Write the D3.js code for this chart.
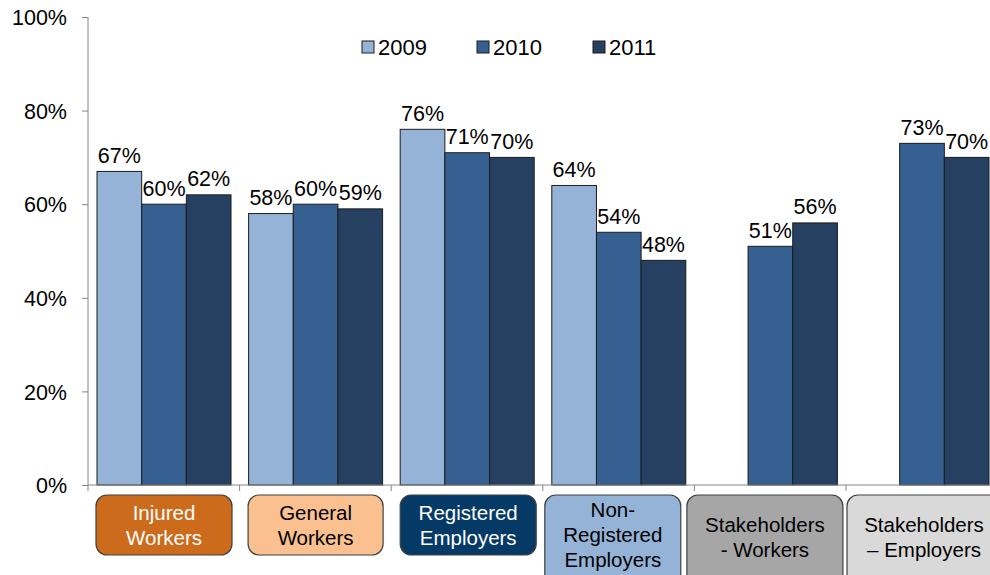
<!DOCTYPE html>
<html>
<head>
<meta charset="utf-8">
<script src="https://cdn.jsdelivr.net/npm/d3@7"></script>
<style>
  html, body { margin: 0; padding: 0; background: #fff; }
  svg { display: block; font-family: "Liberation Sans", Arial, sans-serif; }
</style>
</head>
<body>
<svg id="chart" width="990" height="575"></svg>
<script>
// ---- Data ----
const categories = ["Injured Workers", "General Workers", "Registered Employers", "Non-Registered Employers", "Stakeholders - Workers", "Stakeholders – Employers"];
const categoryLines = [["Injured", "Workers"], ["General", "Workers"], ["Registered", "Employers"], ["Non-", "Registered", "Employers"], ["Stakeholders", "- Workers"], ["Stakeholders", "– Employers"]];
const seriesNames = ["2009", "2010", "2011"];
const values2009 = [67, 58, 76, 64, null, null];
const values2010 = [60, 60, 71, 54, 51, 73];
const values2011 = [62, 59, 70, 48, 56, 70];
const yTicks = [0, 20, 40, 60, 80, 100];

// ---- Styles / layout ----
const seriesColors = ["#95B3D7", "#366092", "#254061"];
const boxFill = ["#CC6B1C", "#FAC090", "#053A66", "#95B3D7", "#A6A6A6", "#D9D9D9"];
const boxText = ["#ffffff", "#000000", "#ffffff", "#000000", "#000000", "#000000"];
// box placement relative to band start: [dx, width, height]
const boxLayout = [[8, 136, 60], [8.5, 135, 60], [9, 136, 60], [2, 136, 92], [-7.5, 156, 92], [1, 154, 92]];

const svg = d3.select("#chart");
const left = 88, bandStep = 151.6;
const x = d3.scaleBand().domain(categories).range([left, left + bandStep * categories.length]).padding(0);
const xs = d3.scaleBand().domain(seriesNames).range([9, x.bandwidth() - 8.6]).padding(0);
const y = d3.scaleLinear().domain([0, 100]).range([485, 17]);

const data = categories.map((c, i) => ({
  cat: c,
  vals: [values2009[i], values2010[i], values2011[i]]
}));

// ---- Axes ----
const axisColor = "#868686";
const yAxis = svg.append("g").attr("transform", `translate(${left},0)`)
  .call(d3.axisLeft(y).tickValues(yTicks).tickSize(6).tickFormat(d => d + "%"));
yAxis.select(".domain").attr("stroke", axisColor).attr("d", `M0,${y(100)}V${y(0)}`);
yAxis.selectAll(".tick line").attr("stroke", axisColor);
yAxis.selectAll(".tick text").attr("x", -21).attr("dy", "0.36em")
  .attr("font-size", 21.5).attr("fill", "#000").attr("font-family", "Liberation Sans, Arial, sans-serif");

// ---- Bars ----
const groups = svg.append("g").selectAll("g").data(data).join("g")
  .attr("transform", d => `translate(${x(d.cat)},0)`);

groups.selectAll("rect").data(d => d.vals.map((v, j) => ({ v, s: seriesNames[j], j })).filter(e => e.v != null))
  .join("rect")
  .attr("x", e => xs(e.s))
  .attr("y", e => y(e.v))
  .attr("width", xs.bandwidth())
  .attr("height", e => y(0) - y(e.v))
  .attr("fill", e => seriesColors[e.j])
  .attr("stroke", "#1b1b1b")
  .attr("stroke-width", 1);

groups.selectAll("text.val").data(d => d.vals.map((v, j) => ({ v, s: seriesNames[j] })).filter(e => e.v != null))
  .join("text").attr("class", "val")
  .attr("x", e => xs(e.s) + xs.bandwidth() / 2)
  .attr("y", e => y(e.v) - 8.5)
  .attr("text-anchor", "middle")
  .attr("font-size", 21.5)
  .attr("fill", "#000")
  .text(e => e.v + "%");

// ---- X axis line + ticks ----
const xAxisG = svg.append("g");
xAxisG.append("line").attr("x1", left).attr("x2", 990).attr("y1", y(0)).attr("y2", y(0)).attr("stroke", axisColor);
xAxisG.selectAll("line.t").data(categories.concat(["end"])).join("line").attr("class", "t")
  .attr("x1", (d, i) => left + i * x.step()).attr("x2", (d, i) => left + i * x.step())
  .attr("y1", y(0)).attr("y2", y(0) + 6).attr("stroke", axisColor);

// ---- Legend ----
const legend = svg.append("g");
const legendX = [362, 477, 593];
seriesNames.forEach((s, i) => {
  const g = legend.append("g").attr("transform", `translate(${legendX[i]},41)`);
  g.append("rect").attr("width", 12).attr("height", 12).attr("fill", seriesColors[i]).attr("stroke", "#1b1b1b");
  g.append("text").attr("x", 16).attr("y", 14).attr("font-size", 22).attr("fill", "#000").text(s);
});

// ---- Category boxes ----
const boxes = svg.append("g").selectAll("g").data(categories).join("g")
  .attr("transform", (d, i) => `translate(${x(d) + boxLayout[i][0]},495)`);
boxes.append("rect")
  .attr("width", (d, i) => boxLayout[i][1])
  .attr("height", (d, i) => boxLayout[i][2])
  .attr("rx", 11).attr("ry", 11)
  .attr("fill", (d, i) => boxFill[i])
  .attr("stroke", "#404040").attr("stroke-width", 1.2);
boxes.each(function (d, i) {
  const lines = categoryLines[i];
  const w = boxLayout[i][1];
  const base = lines.length === 3 ? 22 : (boxLayout[i][2] > 70 ? 36.5 : 25);
  const t = d3.select(this).append("text")
    .attr("text-anchor", "middle").attr("font-size", 20.5).attr("fill", boxText[i]);
  lines.forEach((ln, k) => {
    t.append("tspan").attr("x", w / 2).attr("y", base + k * 25).text(ln);
  });
});
</script>
</body>
</html>
